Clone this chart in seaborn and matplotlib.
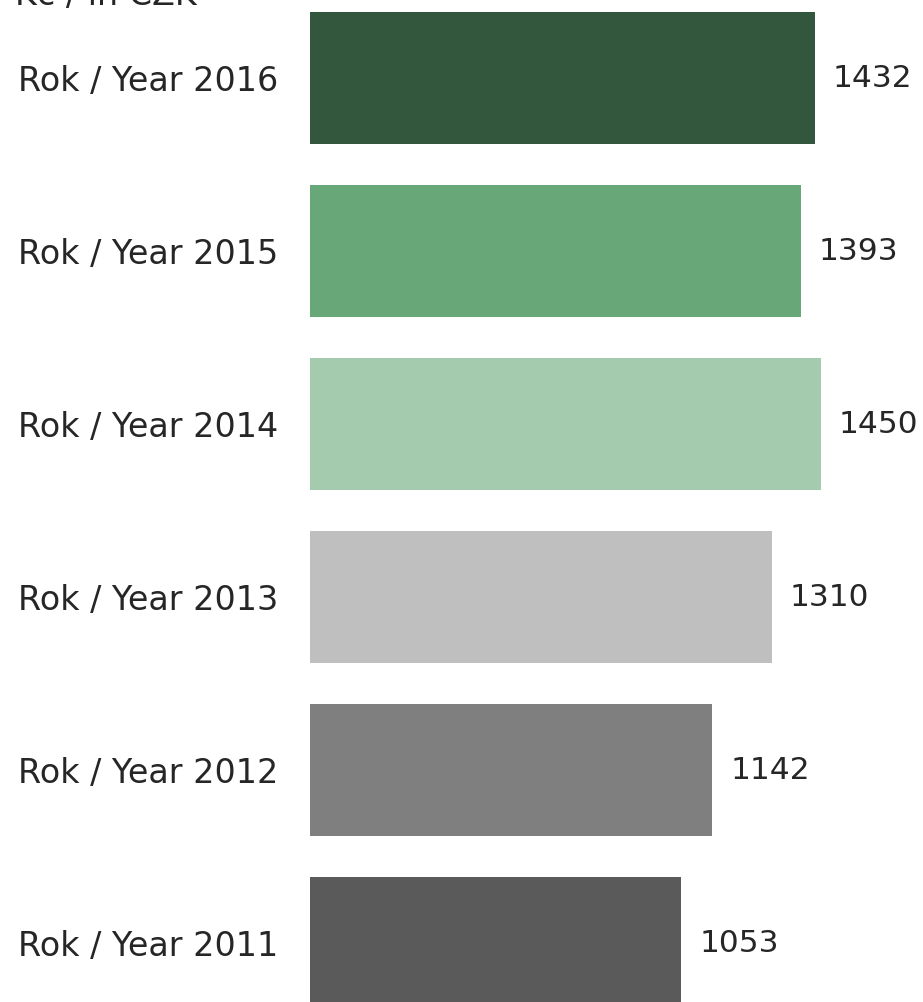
import matplotlib
matplotlib.use("Agg")
import matplotlib.pyplot as plt
import seaborn as sns
import pandas as pd

years = ["Rok / Year 2016", "Rok / Year 2015", "Rok / Year 2014",
         "Rok / Year 2013", "Rok / Year 2012", "Rok / Year 2011"]
values = [1432, 1393, 1450, 1310, 1142, 1053]
colors = ["#33573d", "#68a878", "#a4cbae", "#bfbfbf", "#7f7f7f", "#5a5a5a"]
unit_label = "Kč / in CZK"

df = pd.DataFrame({"year": years, "value": values})

sns.set_style("white")
plt.rcParams["font.family"] = ["DejaVu Sans"]
text_color = "#262626"

fig = plt.figure(figsize=(9.23, 10.02), dpi=100)
ax = fig.add_axes([310 / 923, 0, 1 - 310 / 923, 1])

sns.barplot(data=df, x="value", y="year", hue="year", palette=colors,
            order=years, legend=False, width=0.763, ax=ax,
            saturation=1, edgecolor="none")

for c in ax.containers:
    ax.bar_label(c, padding=13, fontsize=22.5, color=text_color)

ax.set_xlim(0, 1739.5)
ax.set_ylim(5.341, -0.451)
ax.set_xlabel("")
ax.set_ylabel("")
ax.set_xticks([])
ax.tick_params(axis="y", length=0, pad=23, labelsize=24, labelcolor=text_color)
sns.despine(ax=ax, left=True, bottom=True)

fig.text(15 / 923, 1 - 5 / 1002, unit_label, fontsize=24, color=text_color,
         ha="left", va="baseline")

fig.savefig("out.png", dpi=100)
